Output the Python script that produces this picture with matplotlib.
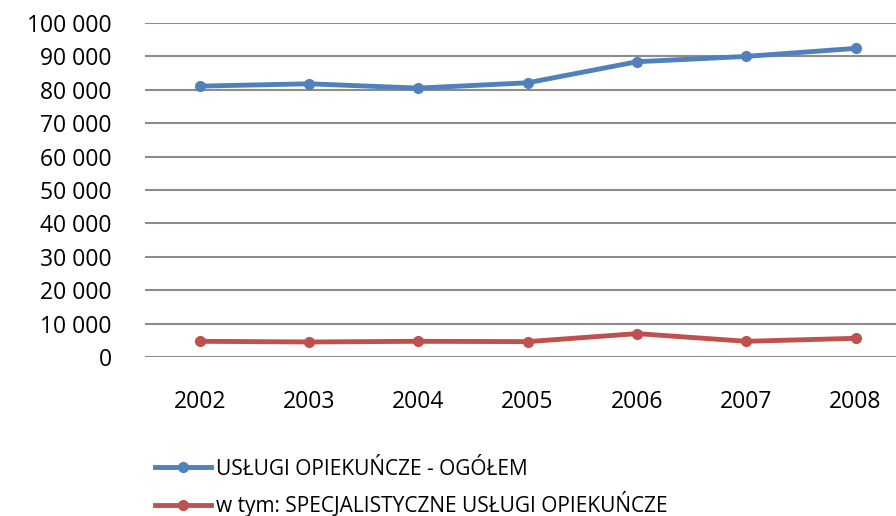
import matplotlib.pyplot as plt
from matplotlib.ticker import FuncFormatter

years = ['2002', '2003', '2004', '2005', '2006', '2007', '2008']
ogolem = [81100, 81800, 80500, 82100, 88400, 90000, 92400]
specjalistyczne = [4700, 4500, 4700, 4600, 7000, 4700, 5600]

plt.rcParams['font.family'] = ['Open Sans', 'DejaVu Sans']

fig = plt.figure(figsize=(8.96, 5.16), dpi=100)
ax = fig.add_axes([145 / 896, 1 - 357 / 516, 1 - 145 / 896, (357 - 23) / 516])

x = range(len(years))
ax.plot(x, ogolem, color='#4F81BD', lw=3.5, marker='o', ms=7,
        label='USŁUGI OPIEKUŃCZE - OGÓŁEM', clip_on=False)
ax.plot(x, specjalistyczne, color='#C0504D', lw=3.5, marker='o', ms=7,
        label='w tym: SPECJALISTYCZNE USŁUGI OPIEKUŃCZE', clip_on=False)

ax.set_ylim(0, 100000)
ax.set_yticks(range(0, 100001, 10000))
ax.yaxis.set_major_formatter(FuncFormatter(lambda v, p: f'{int(v):,}'.replace(',', ' ')))
ax.set_xlim(-0.5, 6.37)
ax.set_xticks(list(x))
ax.set_xticklabels(years)

ax.grid(axis='y', color='#8c8c8c', lw=1.5)
ax.set_axisbelow(True)
for s in ax.spines.values():
    s.set_visible(False)
ax.tick_params(axis='y', length=0, pad=24, labelsize=16.5)
ax.tick_params(axis='x', length=0, pad=24, labelsize=16.5)

fig.legend(loc='upper left', bbox_to_anchor=(136 / 896, 1 - 440 / 516), frameon=False,
           fontsize=15, handlelength=2.7, labelspacing=0.55, handletextpad=0.25)

fig.savefig('out.png', dpi=100)
